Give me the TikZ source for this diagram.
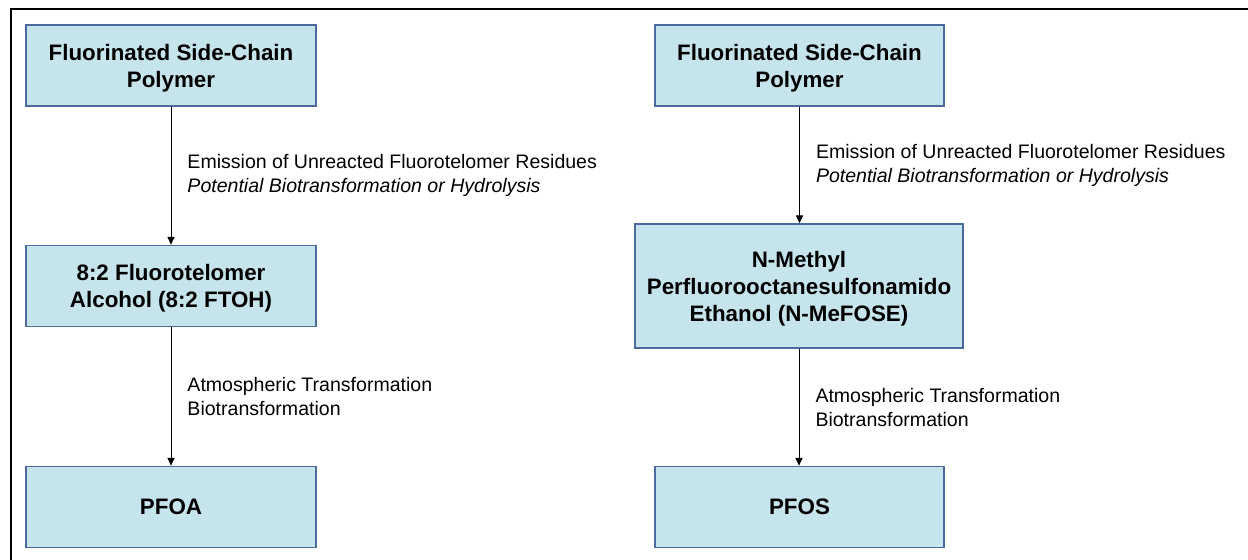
\documentclass[tikz,border=0pt]{standalone}
\usepackage{fontspec}
\setmainfont{Liberation Sans}
\usetikzlibrary{positioning, arrows.meta}

\begin{document}
\begin{tikzpicture}[>={Triangle[length=5.5pt,width=5pt]}, line width=0.7pt,
  chem/.style={draw=boxline, line width=1.2pt, fill=boxfill, align=center, text depth=0pt, minimum width=7.25cm, minimum height=2.025cm, font=\fontsize{15.9}{19.2}\selectfont\bfseries},
  via/.style={align=left, inner sep=0pt, right=0.4cm, font=\fontsize{13.9}{17.1}\selectfont}]
  \definecolor{boxfill}{RGB}{198,228,236}
  \definecolor{boxline}{RGB}{74,106,160}
  \useasboundingbox (0,0) rectangle (31.2,-14);
  \draw[line width=2pt] (0.275,-14) -- (0.275,-0.225) -- (31.2,-0.225);
  % left chain: FTOH to PFOA
  \node[chem] (polyA) at (4.275,-1.6375) {Fluorinated Side-Chain\\Polymer};
  \node[chem] (ftoh) at (4.275,-7.15) {8:2 Fluorotelomer\\Alcohol (8:2 FTOH)};
  \node[chem] (pfoa) at (4.275,-12.675) {PFOA};
  \draw[->] (polyA.south) -- (ftoh.north) node[midway, via]{Emission of Unreacted Fluorotelomer Residues\\\textit{Potential Biotransformation or Hydrolysis}};
  \draw[->] (ftoh.south) -- (pfoa.north) node[midway, via]{Atmospheric Transformation\\Biotransformation};
  % right chain: N-MeFOSE to PFOS
  \node[chem, minimum width=7.225cm] (polyB) at (19.9875,-1.6375) {Fluorinated Side-Chain\\Polymer};
  \node[chem, minimum width=8.2cm, minimum height=3.1cm] (mefose) at (19.975,-7.15) {N-Methyl\\Perfluorooctanesulfonamido\\Ethanol (N-MeFOSE)};
  \node[chem, minimum width=7.225cm] (pfos) at (19.9875,-12.675) {PFOS};
  \draw[->] (polyB.south) -- (polyB.south |- mefose.north) node[midway, via]{Emission of Unreacted Fluorotelomer Residues\\\textit{Potential Biotransformation or Hydrolysis}};
  \draw[->] (mefose.south) -- (mefose.south |- pfos.north) node[midway, via]{Atmospheric Transformation\\Biotransformation};
\end{tikzpicture}
\end{document}
